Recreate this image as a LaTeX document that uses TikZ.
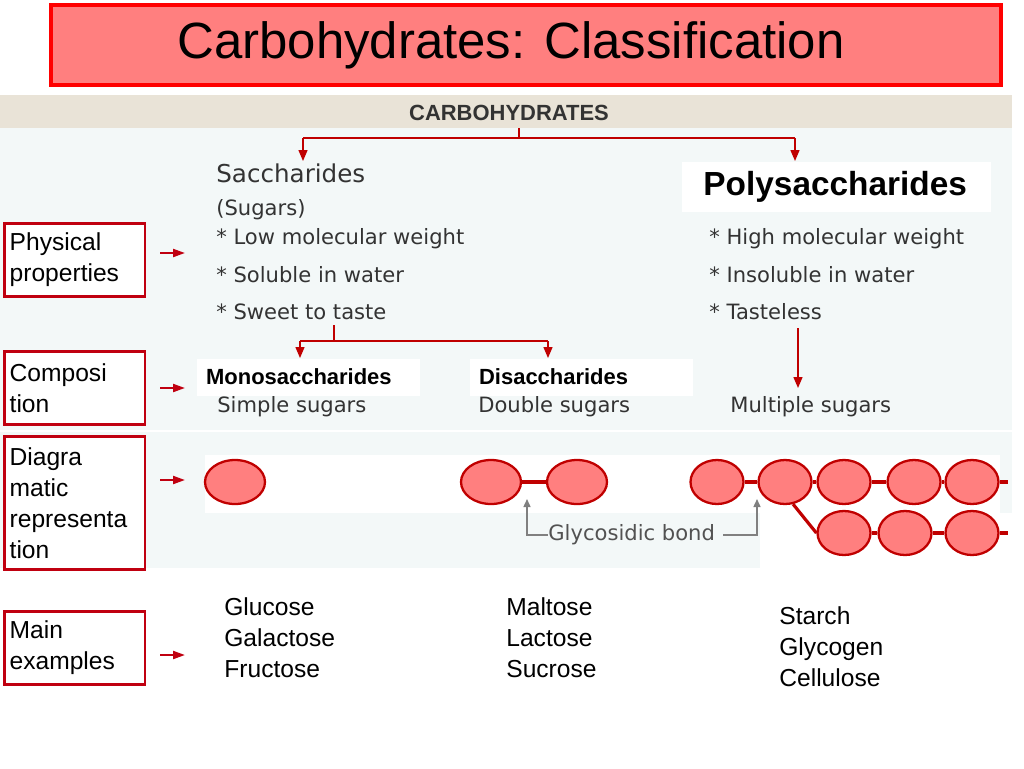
\documentclass[tikz,border=0pt]{standalone}
\usepackage{fontspec}
\setmainfont{Liberation Sans}
\newfontfamily\verdfont{DejaVu Sans}
\usetikzlibrary{positioning,arrows.meta,shapes.geometric}
\definecolor{titlered}{HTML}{FF7F7F}
\definecolor{bordred}{HTML}{C00010}
\definecolor{bondred}{HTML}{C00000}
\definecolor{panelbg}{HTML}{F3F8F8}
\definecolor{bandbg}{HTML}{E9E3D7}
\definecolor{inktext}{HTML}{333333}
\tikzset{
  treearrow/.style={-{Triangle[length=2.2mm,width=1.8mm]}, thick, draw=bondred},
  sidearrow/.style={-{Triangle[length=2.4mm,width=1.6mm]}, line width=1.2pt, draw=bordred},
  tagbox/.style={draw=bordred, line width=1.6pt, fill=white, anchor=north west, align=left,
    text width=2.6cm, inner sep=3pt, font=\fontsize{14}{17.6}\selectfont},
  sugartext/.style={anchor=west, inner sep=0pt, text=inktext, font=\verdfont\fontsize{12}{14}\selectfont},
  namebox/.style={fill=white, anchor=west, align=left, inner ysep=2pt, font=\bfseries\fontsize{12.5}{15}\selectfont},
  sugar/.style={ellipse, draw=bondred, line width=1.3pt, fill=titlered, minimum width=1.2cm, minimum height=0.88cm, inner sep=0pt},
  bond/.style={draw=bondred, line width=1.8pt},
  glyarrow/.style={-{Triangle[length=1.6mm,width=1.4mm]}, draw=gray, line width=0.8pt},
  examples/.style={anchor=north west, align=left, inner sep=0pt, font=\fontsize{14}{17.6}\selectfont}
}
\begin{document}
\begin{tikzpicture}[x=0.02cm, y=-0.02cm]
  \useasboundingbox (0,0) rectangle (1024,768);
  % backgrounds
  \fill[panelbg] (0,95) rectangle (1012,430);
  \fill[bandbg] (0,95) rectangle (1012,128);
  \fill[panelbg] (0,432) rectangle (1012,513);
  \fill[panelbg] (0,513) rectangle (760,568);
  \fill[white] (205,455) rectangle (1000,513);
  % title
  \node[draw=red, line width=2pt, fill=titlered, minimum width=19cm, minimum height=1.6cm] (titlebox) at (526,45) {};
  \node[font=\fontsize{29}{34}\selectfont] (title) at (511,45) {Carbohydrates: Classification};
  \node[font=\bfseries\fontsize{12.5}{15}\selectfont, text=inktext] (carbo) at (509,113) {CARBOHYDRATES};

  % left column
  \node[tagbox, minimum height=1.46cm] (phys) at (3,222) {Physical\\properties};
  \node[tagbox, minimum height=1.46cm] (comp) at (3,350) {Composi\\tion};
  \node[tagbox, minimum height=2.66cm] (diag) at (3,435) {Diagra\\matic\\representa\\tion};
  \node[tagbox, minimum height=1.46cm] (mainex) at (3,610) {Main\\examples};
  \coordinate (pend) at (185,253);
  \coordinate (cend) at (185,388);
  \coordinate (dend) at (185,480);
  \coordinate (mend) at (185,655);
  \draw[sidearrow] (phys.east |- pend) ++(14,0) -- (pend);
  \draw[sidearrow] (comp.east |- cend) ++(14,0) -- (cend);
  \draw[sidearrow] (diag.east |- dend) ++(14,0) -- (dend);
  \draw[sidearrow] (mainex.east |- mend) ++(14,0) -- (mend);

  % saccharides column
  \node[sugartext, font=\verdfont\fontsize{14}{16}\selectfont] (sacch) at (216,173) {Saccharides};
  \node[sugartext] (sugars) at (216,210) {(Sugars)};
  \node[sugartext] (low) at (216,239) {* Low molecular weight};
  \node[sugartext] (sol) at (216,275) {* Soluble in water};
  \node[sugartext] (sweet) at (216,312) {* Sweet to taste};
  \node[sugartext] (simple) at (217,407) {Simple sugars};
  \node[sugartext] (double) at (478,407) {Double sugars};
  \node[namebox, text width=4.1cm, inner xsep=5pt, minimum height=0.74cm] (mono) at (197,377) {Monosaccharides};
  \node[namebox, text width=4.1cm, inner xsep=5pt, minimum height=0.74cm] (di) at (470,377) {Disaccharides};

  % polysaccharides column
  \node[namebox, text width=5.9cm, inner xsep=4pt, minimum height=1cm, font=\bfseries\fontsize{19}{22}\selectfont] (poly) at (682,187) {\hspace{8pt}Polysaccharides};
  \node[sugartext] (high) at (709,239) {* High molecular weight};
  \node[sugartext] (insol) at (709,275) {* Insoluble in water};
  \node[sugartext] (taste) at (709,312) {* Tasteless};
  \node[sugartext] (multi) at (730,407) {Multiple sugars};

  % tree connectors
  \coordinate (top) at (519,128);
  \coordinate (tl) at (303,138);
  \coordinate (tr) at (795,138);
  \coordinate (mid) at (334,325);
  \coordinate (ml) at (300,341);
  \coordinate (mr) at (548,341);
  \draw[thick, bondred] (top) -- (519,138);
  \draw[thick, bondred] (tl) -- (tr);
  \draw[treearrow] (tl) -- (303,161);
  \draw[treearrow] (tr) -- (795,161);
  \draw[thick, bondred] (mid) -- (334,341);
  \draw[thick, bondred] (ml) -- (mr);
  \draw[treearrow] (ml) -- (300,358);
  \draw[treearrow] (mr) -- (548,358);
  \coordinate (tdown) at (798,328);
  \draw[treearrow] (tdown) -- (798,388);

  % sugar units
  \node[sugar] (g1) at (235,482) {};
  \node[sugar] (d1) at (491,482) {};
  \node[sugar] (d2) at (577,482) {};
  \draw[bond] (d1) -- (d2);
  \foreach \n/\x in {p1/717, p2/785, p3/844, p4/914, p5/972}
    \node[sugar, minimum width=1.06cm] (\n) at (\x,482) {};
  \foreach \n/\x in {q1/844, q2/905, q3/972}
    \node[sugar, minimum width=1.06cm] (\n) at (\x,533) {};
  \coordinate (pe) at (1008,482);
  \coordinate (qe) at (1008,533);
  \draw[bond] (p1) -- (p2);
  \draw[bond] (p2) -- (p3);
  \draw[bond] (p3) -- (p4);
  \draw[bond] (p4) -- (p5);
  \draw[bond] (p5) -- (pe);
  \draw[bond] (q1) -- (q2);
  \draw[bond] (q2) -- (q3);
  \draw[bond] (q3) -- (qe);
  \draw[bond] (p2.-70) -- (q1.west);

  % glycosidic bond label
  \node[sugartext, text=inktext!85] (gly) at (548,535) {Glycosidic bond};
  \draw[glyarrow] (gly.west) -- (527,535) -- (527,499);
  \draw[glyarrow] (gly.east) ++(8,0) -- (757,535) -- (757,499);

  % examples
  \node[examples] (ex1) at (224,597) {Glucose\\Galactose\\Fructose};
  \node[examples] (ex2) at (506,597) {Maltose\\Lactose\\Sucrose};
  \node[examples] (ex3) at (779,606) {Starch\\Glycogen\\Cellulose};
\end{tikzpicture}
\end{document}
